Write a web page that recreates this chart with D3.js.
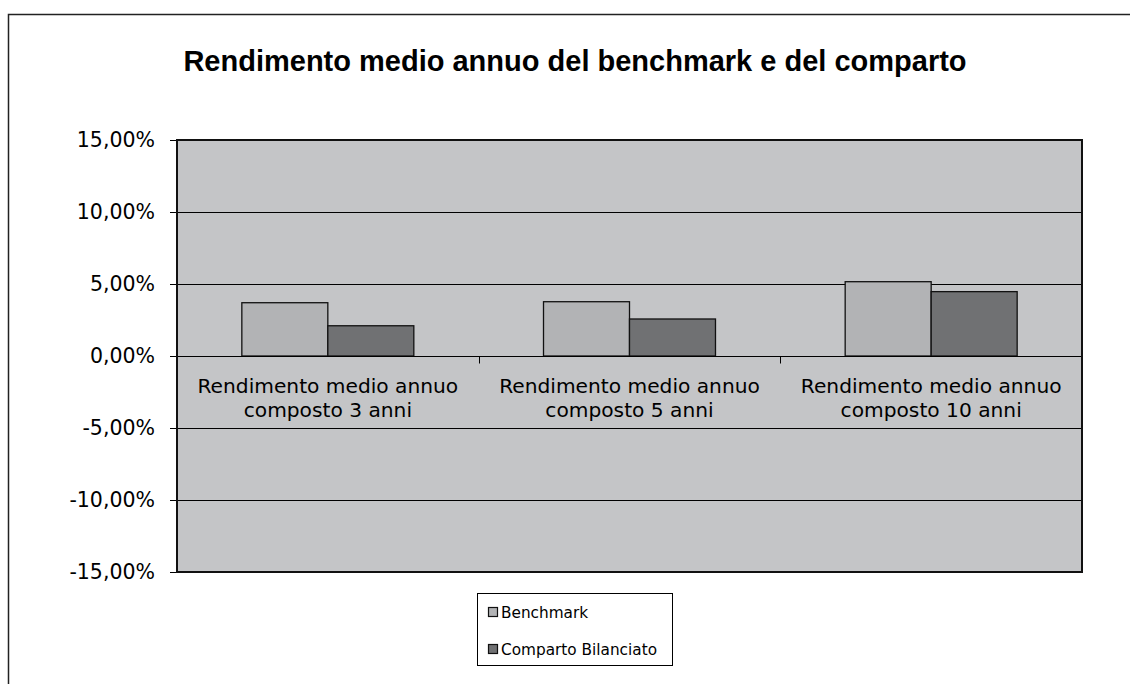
<!DOCTYPE html>
<html>
<head>
<meta charset="utf-8">
<script src="https://cdnjs.cloudflare.com/ajax/libs/d3/7.8.5/d3.min.js"></script>
<style>
  body { margin: 0; background: #fff; }
  svg { display: block; }
</style>
</head>
<body>
<div id="chart"></div>
<script>
// data
var categories = [
  ["Rendimento medio annuo", "composto 3 anni"],
  ["Rendimento medio annuo", "composto 5 anni"],
  ["Rendimento medio annuo", "composto 10 anni"]
];
var seriesNames = ["Benchmark", "Comparto Bilanciato"];
var benchmark = [0.0370, 0.0377, 0.0516];
var comparto = [0.0210, 0.0257, 0.0447];
var yTicks = [-0.15, -0.10, -0.05, 0, 0.05, 0.10, 0.15];
var seriesColors = ["#b2b3b5", "#707173"];

var W = 1130, H = 684;
var margin = {top: 140, right: 48, bottom: 112, left: 177},
    width = W - margin.left - margin.right,
    height = H - margin.top - margin.bottom;

var svg = d3.select("#chart").append("svg")
    .attr("width", W)
    .attr("height", H);

// outer chart border (only left/top visible in the crop)
svg.append("rect")
    .attr("x", 8.5).attr("y", 14.5)
    .attr("width", W + 20).attr("height", H + 20)
    .attr("fill", "#fff")
    .attr("stroke", "#222").attr("stroke-width", 1.5);

svg.append("text")
    .attr("x", 575).attr("y", 71)
    .attr("text-anchor", "middle")
    .style("font-family", "'Liberation Sans', Arial, sans-serif")
    .style("font-weight", "bold")
    .style("font-size", "29px")
    .text("Rendimento medio annuo del benchmark e del comparto");

var g = svg.append("g")
    .attr("transform", "translate(" + margin.left + "," + margin.top + ")");

var keys = d3.range(categories.length);

var x0 = d3.scaleBand().domain(keys).range([0, width]).padding(0);
var x1 = d3.scaleBand().domain(seriesNames).range([0, x0.bandwidth()])
    .paddingInner(0).paddingOuter(0.754);
var y = d3.scaleLinear().domain([-0.15, 0.15]).range([height, 0]);

var fmt = function(v) {
  var s = (Math.abs(v) * 100).toFixed(2).replace(".", ",") + "%";
  return (v < 0 ? "-" : "") + s;
};

// plot area
g.append("rect")
    .attr("width", width).attr("height", height)
    .attr("fill", "#c4c5c7");

// grid lines
g.selectAll(".grid")
    .data(yTicks.filter(function(d) { return d !== -0.15 && d !== 0.15; }))
    .enter().append("line")
    .attr("x1", 0).attr("x2", width)
    .attr("y1", function(d) { return Math.round(y(d)) + 0.5; })
    .attr("y2", function(d) { return Math.round(y(d)) + 0.5; })
    .attr("stroke", "#000").attr("stroke-width", 1);

// y axis
var yAxis = d3.axisLeft(y).tickValues(yTicks).tickFormat(fmt).tickSize(7).tickPadding(15);
var ya = g.append("g").call(yAxis);
ya.select(".domain").remove();
ya.selectAll("line").attr("stroke", "#000");
ya.selectAll("text")
    .style("font-family", "'DejaVu Sans', Verdana, sans-serif")
    .style("font-size", "20.5px")
    .attr("fill", "#000");

// bars
var rows = keys.map(function(i) {
  return [benchmark[i], comparto[i]];
});
var groups = g.selectAll(".cat")
    .data(rows)
    .enter().append("g")
    .attr("transform", function(d, i) { return "translate(" + x0(i) + ",0)"; });

groups.selectAll("rect")
    .data(function(d) { return d.map(function(v, j) { return {v: v, s: seriesNames[j], j: j}; }); })
    .enter().append("rect")
    .attr("x", function(d) { return x1(d.s); })
    .attr("width", x1.bandwidth())
    .attr("y", function(d) { return y(Math.max(0, d.v)); })
    .attr("height", function(d) { return Math.abs(y(d.v) - y(0)); })
    .attr("fill", function(d) { return seriesColors[d.j]; })
    .attr("stroke", "#111").attr("stroke-width", 1.3);

// category axis on the zero line
var xa = g.append("g").attr("transform", "translate(0," + (Math.round(y(0)) + 0.5) + ")");
xa.append("line").attr("x1", 0).attr("x2", width).attr("stroke", "#000");
xa.selectAll(".tk")
    .data(d3.range(1, categories.length))
    .enter().append("line")
    .attr("x1", function(d) { return Math.round(x0(d)) + 0.5; })
    .attr("x2", function(d) { return Math.round(x0(d)) + 0.5; })
    .attr("y1", 0).attr("y2", 7)
    .attr("stroke", "#000");
var lab = xa.selectAll(".lab")
    .data(categories)
    .enter().append("text")
    .attr("text-anchor", "middle")
    .attr("transform", function(d, i) { return "translate(" + (x0(i) + x0.bandwidth() / 2) + ",0)"; })
    .style("font-family", "'DejaVu Sans', Verdana, sans-serif")
    .style("font-size", "20.2px")
    .attr("fill", "#000");
lab.selectAll("tspan")
    .data(function(d) { return d; })
    .enter().append("tspan")
    .attr("x", 0)
    .attr("y", function(d, i) { return 36 + i * 24; })
    .text(function(d) { return d; });

// plot border
g.append("rect")
    .attr("width", width).attr("height", height)
    .attr("fill", "none")
    .attr("stroke", "#111").attr("stroke-width", 2);

// legend
var lg = svg.append("g").attr("transform", "translate(477,593)");
lg.append("rect")
    .attr("x", 0.5).attr("y", 0.5).attr("width", 195).attr("height", 72)
    .attr("fill", "#fff").attr("stroke", "#000");
var li = lg.selectAll(".li")
    .data(seriesNames)
    .enter().append("g")
    .attr("transform", function(d, i) { return "translate(11," + (19 + i * 37) + ")"; });
li.append("rect")
    .attr("x", 0.5).attr("y", -4.5).attr("width", 9).attr("height", 9)
    .attr("fill", function(d, i) { return seriesColors[i]; })
    .attr("stroke", "#111").attr("stroke-width", 1.2);
li.append("text")
    .attr("x", 13).attr("y", 5.5)
    .style("font-family", "'DejaVu Sans', Verdana, sans-serif")
    .style("font-size", "15.3px")
    .attr("fill", "#000")
    .text(function(d) { return d; });
</script>
</body>
</html>
